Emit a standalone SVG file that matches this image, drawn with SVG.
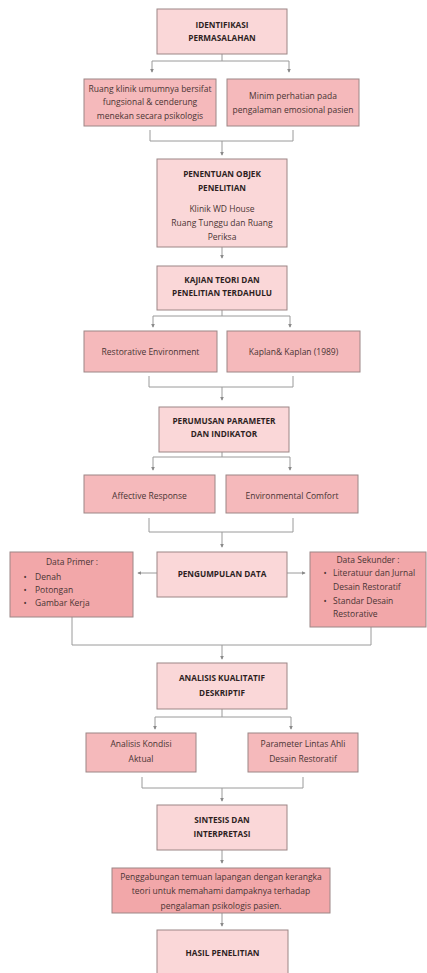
<svg xmlns="http://www.w3.org/2000/svg" width="427" height="973" viewBox="0 0 427 973">
<defs>
<marker id="ah" viewBox="0 0 6 6" refX="5" refY="3" markerWidth="4" markerHeight="4" orient="auto" markerUnits="userSpaceOnUse">
<path d="M0,0 L6,3 L0,6 z" fill="#8a8a8a"/>
</marker>
<style>
.main{fill:#fad7d8;stroke:#9c8686;stroke-width:1}
.sub{fill:#f5b9bb;stroke:#9c8686;stroke-width:1}
.dark{fill:#f2a7a9;stroke:#9c8686;stroke-width:1}
.t{font-family:"Open Sans","Liberation Sans",sans-serif;font-size:8.5px;fill:#4a3434;text-anchor:middle;dominant-baseline:central}
.b{font-family:"Open Sans","Liberation Sans",sans-serif;font-size:8.2px;font-weight:bold;fill:#2e1f1f;text-anchor:middle;dominant-baseline:central}
.l{text-anchor:start}
.c{fill:none;stroke:#9a9a9a;stroke-width:1}
.a{fill:none;stroke:#9a9a9a;stroke-width:1;marker-end:url(#ah)}
</style>
</defs>
<rect width="427" height="973" fill="#ffffff"/>
<g id="connectors">
<path class="c" d="M222,54 V61 M152,61 H289"/>
<path class="a" d="M152,61 V72"/>
<path class="a" d="M289,61 V72"/>
<path class="c" d="M150,130 V141 H293 V130"/>
<path class="a" d="M222,141 V155"/>
<path class="a" d="M222,247 V258"/>
<path class="c" d="M222,310 V316 M153,316 H290"/>
<path class="a" d="M153,316 V327"/>
<path class="a" d="M290,316 V327"/>
<path class="c" d="M149,376 V387 H293 V376"/>
<path class="a" d="M222,387 V400"/>
<path class="c" d="M222,452 V457 M153,457 H290"/>
<path class="a" d="M153,457 V470"/>
<path class="a" d="M290,457 V470"/>
<path class="c" d="M149,518 V532 H293 V518"/>
<path class="a" d="M222,532 V547"/>
<path class="a" d="M157,573 H138"/>
<path class="a" d="M287,573 H305"/>
<path class="c" d="M72,617 V645 H371 V627"/>
<path class="a" d="M222,645 V659"/>
<path class="c" d="M222,709 V717 M155,717 H291"/>
<path class="a" d="M155,717 V729"/>
<path class="a" d="M291,717 V729"/>
<path class="c" d="M142,777 V788 H303 V777"/>
<path class="a" d="M222,788 V801"/>
<path class="a" d="M222,850 V863"/>
<path class="a" d="M222,913 V926"/>
</g>
<g id="n1"><rect class="main" x="157" y="9" width="130" height="45"/>
<text class="b" x="222" y="24">IDENTIFIKASI</text><text class="b" x="222" y="37">PERMASALAHAN</text></g>
<g id="n2a"><rect class="sub" x="84" y="79" width="132" height="47"/>
<text class="t" x="150" y="88">Ruang klinik umumnya bersifat</text><text class="t" x="150" y="101.5">fungsional &amp; cenderung</text><text class="t" x="150" y="115">menekan secara psikologis</text></g>
<g id="n2b"><rect class="sub" x="227" y="79" width="132" height="47"/>
<text class="t" x="293" y="95">Minim perhatian pada</text><text class="t" x="293" y="109">pengalaman emosional pasien</text></g>
<g id="n3"><rect class="main" x="157" y="159" width="130" height="88"/>
<text class="b" x="222" y="173">PENENTUAN OBJEK</text><text class="b" x="222" y="187">PENELITIAN</text>
<text class="t" x="222" y="208">Klinik WD House</text><text class="t" x="222" y="222">Ruang Tunggu dan Ruang</text><text class="t" x="222" y="236">Periksa</text></g>
<g id="n4"><rect class="main" x="157" y="266" width="130" height="44"/>
<text class="b" x="222" y="279">KAJIAN TEORI DAN</text><text class="b" x="222" y="292">PENELITIAN TERDAHULU</text></g>
<g id="n5a"><rect class="sub" x="84" y="331" width="133" height="41"/>
<text class="t" x="150.5" y="351">Restorative Environment</text></g>
<g id="n5b"><rect class="sub" x="227" y="331" width="133" height="41"/>
<text class="t" x="293.5" y="351">Kaplan&amp; Kaplan (1989)</text></g>
<g id="n6"><rect class="main" x="159" y="407" width="130" height="45"/>
<text class="b" x="224" y="420">PERUMUSAN PARAMETER</text><text class="b" x="224" y="433">DAN INDIKATOR</text></g>
<g id="n7a"><rect class="sub" x="84" y="475" width="131" height="38"/>
<text class="t" x="149.5" y="495">Affective Response</text></g>
<g id="n7b"><rect class="sub" x="226" y="475" width="132" height="38"/>
<text class="t" x="292" y="495">Environmental Comfort</text></g>
<g id="n8"><rect class="main" x="157" y="552" width="130" height="45"/>
<text class="b" x="222" y="573">PENGUMPULAN DATA</text></g>
<g id="n9"><rect class="dark" x="10" y="552" width="123" height="65"/>
<text class="t" x="72" y="561">Data Primer :</text>
<text class="t" x="25" y="576">•</text><text class="t l" x="35" y="576">Denah</text>
<text class="t" x="25" y="589">•</text><text class="t l" x="35" y="589">Potongan</text>
<text class="t" x="25" y="602">•</text><text class="t l" x="35" y="602">Gambar Kerja</text></g>
<g id="n10"><rect class="dark" x="310" y="552" width="116" height="75"/>
<text class="t" x="368" y="559">Data Sekunder :</text>
<text class="t" x="325" y="572">•</text><text class="t l" x="333" y="572">Literatuur dan Jurnal</text>
<text class="t l" x="333" y="586">Desain Restoratif</text>
<text class="t" x="325" y="600">•</text><text class="t l" x="333" y="600">Standar Desain</text>
<text class="t l" x="333" y="613">Restorative</text></g>
<g id="n11"><rect class="main" x="157" y="663" width="130" height="46"/>
<text class="b" x="222" y="677">ANALISIS KUALITATIF</text><text class="b" x="222" y="692">DESKRIPTIF</text></g>
<g id="n12a"><rect class="sub" x="86" y="733" width="110" height="39"/>
<text class="t" x="141" y="743">Analisis Kondisi</text><text class="t" x="141" y="758">Aktual</text></g>
<g id="n12b"><rect class="sub" x="248" y="733" width="110" height="39"/>
<text class="t" x="303" y="743">Parameter Lintas Ahli</text><text class="t" x="303" y="758">Desain Restoratif</text></g>
<g id="n13"><rect class="main" x="157" y="805" width="130" height="45"/>
<text class="b" x="222" y="819">SINTESIS DAN</text><text class="b" x="222" y="833">INTERPRETASI</text></g>
<g id="n14"><rect class="dark" x="112" y="868" width="218" height="45"/>
<text class="t" x="221" y="876">Penggabungan temuan lapangan dengan kerangka</text><text class="t" x="221" y="890">teori untuk memahami dampaknya terhadap</text><text class="t" x="221" y="905">pengalaman psikologis pasien.</text></g>
<g id="n15"><rect class="main" x="157" y="930" width="131" height="50"/>
<text class="b" x="222.5" y="952">HASIL PENELITIAN</text></g>
</svg>
